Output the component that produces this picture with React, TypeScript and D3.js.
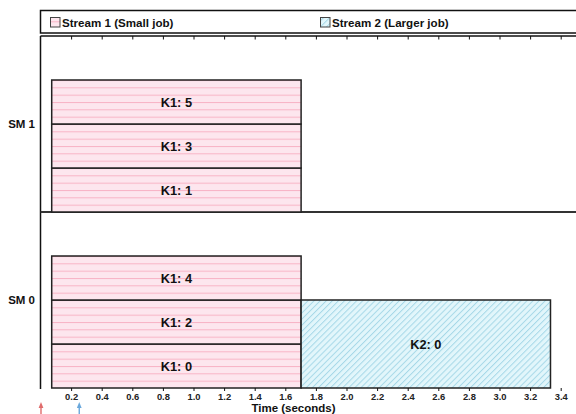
import React from "react";
import * as d3 from "d3";

const jobNames = ["K1: 0", "K1: 1", "K1: 2", "K1: 3", "K1: 4", "K1: 5", "K2: 0"];
const jobStreams = [1, 1, 1, 1, 1, 1, 2];
const jobSMs = [0, 1, 0, 1, 0, 1, 0];
const jobSlots = [0, 0, 1, 1, 2, 2, 0];
const jobSpans = [1, 1, 1, 1, 1, 1, 2];
const jobStarts = [0.07, 0.07, 0.07, 0.07, 0.07, 0.07, 1.7];
const jobEnds = [1.7, 1.7, 1.7, 1.7, 1.7, 1.7, 3.33];
const smLabels = ["SM 0", "SM 1"];
const slotsPerSM = 4;
const xTicks = [0.2, 0.4, 0.6, 0.8, 1.0, 1.2, 1.4, 1.6, 1.8, 2.0, 2.2, 2.4, 2.6, 2.8, 3.0, 3.2, 3.4];
const arrivalTimes = [0, 0.25];
const arrivalStreams = [1, 2];
const legendLabels = ["Stream 1 (Small job)", "Stream 2 (Larger job)"];
const xTitle = "Time (seconds)";

const W = 576;
const H = 414;
const FONT = "'Liberation Sans', Arial, sans-serif";

export default function App() {
  const x = d3.scaleLinear().domain([0, 3.5]).range([41, 576.5]);
  const y = d3.scaleLinear().domain([0, smLabels.length * slotsPerSM]).range([388, 36]);
  const plotTop = y(smLabels.length * slotsPerSM);
  const plotBottom = y(0);
  const fillFor = (s: number) => (s === 1 ? "url(#pinkLines)" : "url(#blueHatch)");
  const arrowColor = (s: number) => (s === 1 ? "#e06c6c" : "#6aa8dc");

  return (
    <svg width={W} height={H} style={{ position: "absolute", left: 0, top: 0 }} fontFamily={FONT}>
      <defs>
        <pattern id="pinkLines" patternUnits="userSpaceOnUse" width={10} height={44 / 6} y={plotTop}>
          <rect width={10} height={44 / 6} fill="#fde6ee" />
          <line x1={0} x2={10} y1={0.5} y2={0.5} stroke="#f8b3c5" strokeWidth={1} />
        </pattern>
        <pattern id="blueHatch" patternUnits="userSpaceOnUse" width={4.3} height={10} patternTransform="rotate(45)">
          <rect width={4.3} height={10} fill="#e2f6fb" />
          <line x1={0.5} x2={0.5} y1={0} y2={10} stroke="#a6d8e8" strokeWidth={1} />
        </pattern>
      </defs>
      <rect width={W} height={H} fill="#fff" />

      {/* legend */}
      <rect x={40.5} y={10.5} width={560} height={22.5} fill="#fff" stroke="#111" strokeWidth={1.5} />
      {legendLabels.map((l, i) => {
        const lx = i === 0 ? 50 : 320;
        return (
          <g key={l}>
            <rect x={lx + 0.5} y={17.5} width={9.5} height={9.5} fill={fillFor(i + 1)} stroke="#444" strokeWidth={1} />
            <text x={lx + 12} y={26.5} fontSize={11.6} fontWeight="bold" fill="#111">{l}</text>
          </g>
        );
      })}

      {/* frame */}
      <line x1={40.5} x2={W} y1={plotTop} y2={plotTop} stroke="#111" strokeWidth={1.5} />
      <line x1={40.5} x2={40.5} y1={plotTop} y2={plotBottom + 1} stroke="#111" strokeWidth={1.5} />
      {xTicks.map((t) => (
        <line key={"tt" + t} x1={x(t)} x2={x(t)} y1={plotTop} y2={plotTop + 3.5} stroke="#111" strokeWidth={1} />
      ))}

      {/* SM divider */}
      {smLabels.slice(1).map((s, i) => (
        <line key={s} x1={40.5} x2={W} y1={y((i + 1) * slotsPerSM)} y2={y((i + 1) * slotsPerSM)} stroke="#333" strokeWidth={2} />
      ))}

      {/* bars */}
      {jobNames.map((n, i) => {
        const u0 = jobSMs[i] * slotsPerSM + jobSlots[i];
        const y0 = y(u0 + jobSpans[i]);
        const y1 = y(u0);
        const x0 = x(jobStarts[i]);
        const x1 = x(jobEnds[i]);
        return (
          <g key={n}>
            <rect x={x0} y={y0} width={x1 - x0} height={y1 - y0} fill={fillFor(jobStreams[i])} stroke="#222" strokeWidth={1.5} />
            <text x={(x0 + x1) / 2} y={(y0 + y1) / 2 + 4.5} textAnchor="middle" fontSize={12.8} fontWeight="bold" fill="#111">{n}</text>
          </g>
        );
      })}

      {/* SM labels */}
      {smLabels.map((s, i) => (
        <text key={s} x={35} y={y(i * slotsPerSM + slotsPerSM / 2) + 4} textAnchor="end" fontSize={11.5} fontWeight="bold" fill="#111">{s}</text>
      ))}

      {/* x axis ticks */}
      {xTicks.map((t) => (
        <g key={"bt" + t}>
          <line x1={x(t)} x2={x(t)} y1={plotBottom} y2={plotBottom + 3} stroke="#111" strokeWidth={1} />
          <text x={x(t)} y={plotBottom + 12} textAnchor="middle" fontSize={9.4} fontWeight="bold" fill="#222">{t.toFixed(1)}</text>
        </g>
      ))}
      <text x={293.5} y={412} textAnchor="middle" fontSize={11.5} fontWeight="bold" fill="#111">{xTitle}</text>

      {/* arrivals */}
      {arrivalTimes.map((t, i) => {
        const ax = x(t);
        const c = arrowColor(arrivalStreams[i]);
        return (
          <g key={"a" + i}>
            <line x1={ax} x2={ax} y1={405} y2={414} stroke={c} strokeWidth={1.4} />
            <path d={`M${ax - 2.4},${408} L${ax},${402} L${ax + 2.4},${408} Z`} fill={c} />
          </g>
        );
      })}
    </svg>
  );
}
